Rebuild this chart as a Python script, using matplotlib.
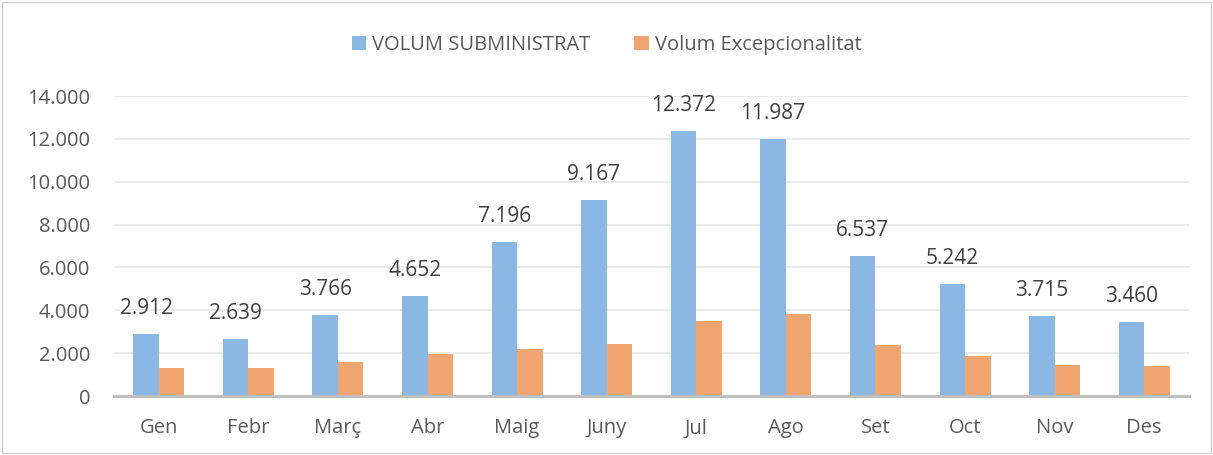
import numpy as np
import matplotlib.pyplot as plt
from matplotlib.patches import Rectangle
from matplotlib.ticker import FuncFormatter

# --- Data ---
months = ["Gen", "Febr", "Març", "Abr", "Maig", "Juny", "Jul", "Ago", "Set", "Oct", "Nov", "Des"]
volum_subministrat = [2912, 2639, 3766, 4652, 7196, 9167, 12372, 11987, 6537, 5242, 3715, 3460]
volum_excepcionalitat = [1300, 1290, 1570, 1980, 2200, 2430, 3490, 3820, 2380, 1870, 1440, 1400]

blue = "#8ab8e2"
orange = "#f0a570"
text_color = "#595959"


def dot_thousands(v, pos=None):
    return f"{int(round(v)):,}".replace(",", ".")


plt.rcParams['font.family'] = ['Open Sans', 'DejaVu Sans']

fig = plt.figure(figsize=(12.13, 4.55), dpi=100)
ax = fig.add_axes([114 / 1213, 59 / 455, 1075 / 1213, 300 / 455])

x = np.arange(len(months))
w = 0.285
ax.bar(x - w / 2, volum_subministrat, width=w, color=blue, label="VOLUM SUBMINISTRAT", zorder=3)
ax.bar(x + w / 2, volum_excepcionalitat, width=w, color=orange, label="Volum Excepcionalitat", zorder=3)

for xi, v in zip(x, volum_subministrat):
    ax.text(xi - w / 2, v + 700, dot_thousands(v), ha="center", va="bottom",
            fontsize=15, color="#404040")

ax.set_xlim(-0.5, len(months) - 0.5)
ax.set_ylim(0, 14000)
ax.set_yticks(np.arange(0, 14001, 2000))
ax.yaxis.set_major_formatter(FuncFormatter(dot_thousands))
ax.set_xticks(x)
ax.set_xticklabels(months)
ax.tick_params(axis="both", length=0, labelsize=14.5, colors=text_color)
ax.tick_params(axis="y", pad=17)
ax.tick_params(axis="x", pad=16)
ax.grid(axis="y", color="#e6e6e6", linewidth=1.2, zorder=0)

for side in ["top", "right", "left"]:
    ax.spines[side].set_visible(False)
ax.spines["bottom"].set_color("#bfbfbf")
ax.spines["bottom"].set_linewidth(2.2)
ax.spines["bottom"].set_zorder(4)

fig.legend(loc="center", bbox_to_anchor=(0.5, 1 - 45 / 455), ncol=2, frameon=False,
           fontsize=14.5, handlelength=0.7, handleheight=0.7, columnspacing=2.2,
           handletextpad=0.3, labelcolor=text_color)

fig.patches.append(Rectangle((0.002, 0.004), 0.996, 0.992, transform=fig.transFigure,
                             fill=False, edgecolor="#d0d0d0", linewidth=1))

fig.savefig("out.png", dpi=100)
